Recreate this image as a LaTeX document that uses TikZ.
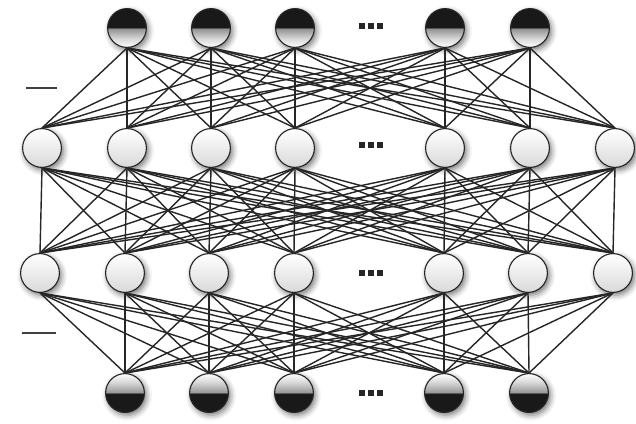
\documentclass[tikz,border=0pt]{standalone}
\usetikzlibrary{shadows.blur}
\pgfdeclareverticalshading{outtop}{100bp}{color(0bp)=(white); color(25bp)=(white);
  color(36bp)=(gray!30); color(49bp)=(gray!85); color(51bp)=(black!90); color(100bp)=(black!90)}
\pgfdeclareverticalshading{outbot}{100bp}{color(0bp)=(black!90); color(49bp)=(black!90);
  color(51bp)=(gray!80); color(64bp)=(gray!30); color(75bp)=(white); color(100bp)=(white)}
\pgfdeclareverticalshading{hidden}{100bp}{color(0bp)=(gray!30); color(25bp)=(gray!30);
  color(75bp)=(white); color(100bp)=(white)}

\begin{document}
\begin{tikzpicture}[x=0.025cm,y=-0.025cm,
  unit/.style={circle,draw=black!85,line width=0.8pt,minimum size=0.97cm,inner sep=0pt,
    blur shadow={shadow xshift=1.5pt,shadow yshift=-2pt,shadow blur radius=4pt,shadow opacity=55}},
  topn/.style={unit,shading=outtop},
  midn/.style={unit,shading=hidden},
  botn/.style={unit,shading=outbot},
  edge/.style={black!85,line width=1pt},
  dotsq/.style={fill=black!85,minimum size=4.6pt,inner sep=0pt}]
\useasboundingbox (0,0) rectangle (636,423);
% layers of units
\foreach \x [count=\i] in {127,211,295,445,530} \node[topn] (t\i) at (\x,28) {};
\foreach \x [count=\i] in {42,127,211,295,445,530,615} \node[midn] (a\i) at (\x,148) {};
\foreach \x [count=\i] in {40,125,209,294,444,528,613} \node[midn] (b\i) at (\x,273) {};
\foreach \x [count=\i] in {125,209,294,444,529} \node[botn] (o\i) at (\x,393) {};
% full connections
\foreach \i in {1,...,5} \foreach \j in {1,...,7} \draw[edge] (t\i.south) -- (a\j.north);
\foreach \i in {1,...,7} \foreach \j in {1,...,7} \draw[edge] (a\i.south) -- (b\j.north);
\foreach \i in {1,...,7} \foreach \j in {1,...,5} \draw[edge] (b\i.south) -- (o\j.north);
% ellipsis marks
\foreach \y in {26,145,273,393} \foreach \x in {362,371,380} \node[dotsq] at (\x,\y) {};
% side ticks
\coordinate (l1) at (26,88); \coordinate (r1) at (57,88);
\coordinate (l2) at (22,333); \coordinate (r2) at (56,333);
\draw[black!75,line width=0.9pt] (l1) -- (r1) (l2) -- (r2);
\end{tikzpicture}
\end{document}
